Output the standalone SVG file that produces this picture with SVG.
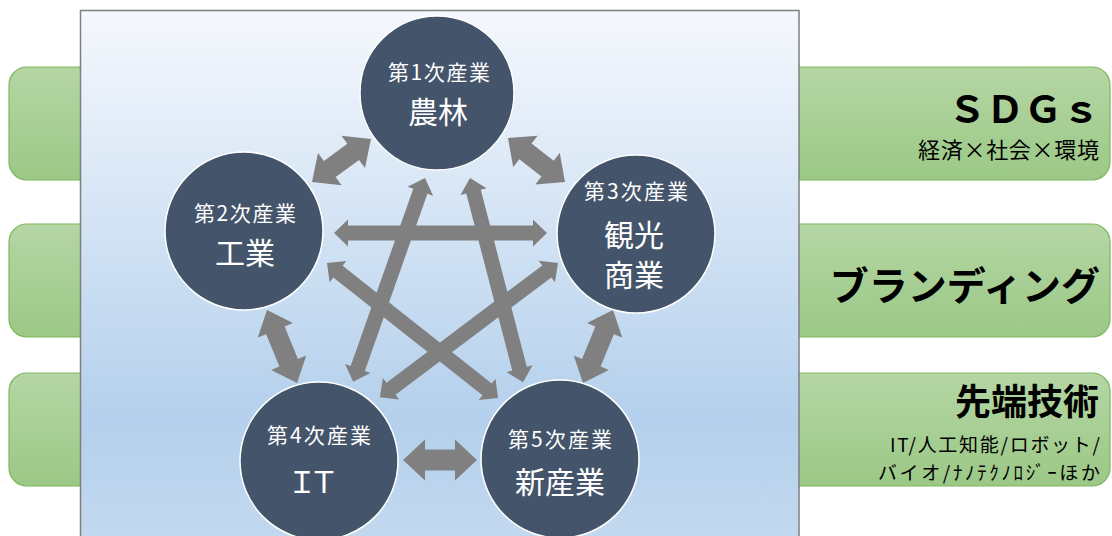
<svg xmlns="http://www.w3.org/2000/svg" width="1112" height="536" viewBox="0 0 1112 536">
<defs>
<linearGradient id="panelGrad" x1="0" y1="10" x2="0" y2="536" gradientUnits="userSpaceOnUse">
<stop offset="0" stop-color="#f5f8fd"/>
<stop offset="0.78" stop-color="#b4d0ec"/>
<stop offset="1" stop-color="#c2d8ef"/>
</linearGradient>
<linearGradient id="greenGrad" x1="0" y1="0" x2="0" y2="1">
<stop offset="0" stop-color="#b5d6a4"/>
<stop offset="1" stop-color="#9bc886"/>
</linearGradient>
<style>
.band{fill:url(#greenGrad);stroke:#7db75c;stroke-width:1.2}
.node circle{fill:#44546a;stroke:#ffffff;stroke-width:1.5}
.small{font-family:"Noto Sans CJK JP","Noto Sans",sans-serif;font-size:21px;fill:#ffffff;text-anchor:middle}
.big{font-family:"Noto Sans CJK JP","Noto Sans",sans-serif;font-size:30px;fill:#ffffff;text-anchor:middle}
.arrow{fill:#808080}
.rt{font-family:"Noto Sans CJK JP","Noto Sans",sans-serif;fill:#000000;text-anchor:end}
</style>
</defs>
<rect width="1112" height="536" fill="#ffffff"/>
<g id="bands">
<rect class="band" x="9" y="67" width="120" height="113" rx="18"/>
<rect class="band" x="9" y="224" width="120" height="113" rx="18"/>
<rect class="band" x="9" y="373" width="120" height="113" rx="18"/>
<rect class="band" x="760" y="67" width="350" height="113" rx="18"/>
<rect class="band" x="760" y="224" width="350" height="113" rx="18"/>
<rect class="band" x="760" y="373" width="350" height="113" rx="18"/>
</g>
<rect id="panel" x="80.5" y="10.5" width="718.5" height="540" fill="url(#panelGrad)" stroke="#7f7f7f" stroke-width="1.5"/>
<g id="band-texts">
<text class="rt" x="1100" y="123" font-size="38" font-weight="bold">ＳＤＧｓ</text>
<text class="rt" x="1099" y="158" font-size="22" textLength="181" lengthAdjust="spacing">経済×社会×環境</text>
<text class="rt" x="1100" y="300" font-size="39" font-weight="bold">ブランディング</text>
<text class="rt" x="1099" y="415" font-size="36" font-weight="bold">先端技術</text>
<text class="rt" x="1100" y="452" font-size="19" textLength="210" lengthAdjust="spacing">IT/人工知能/ロボット/</text>
<text class="rt" x="1100" y="480" font-size="19" textLength="222" lengthAdjust="spacing">バイオ/ﾅﾉﾃｸﾉﾛｼﾞｰほか</text>
</g>
<g id="connectors">
<polygon class="arrow" transform="translate(312,182) rotate(-36.1)" points="0,0 22,-20 22,-10 51,-10 51,-20 73,0 51,20 51,10 22,10 22,20"/>
<polygon class="arrow" transform="translate(508,138) rotate(37.7)" points="0,0 22,-20 22,-10 50,-10 50,-20 72,0 50,20 50,10 22,10 22,20"/>
<polygon class="arrow" transform="translate(267,310) rotate(67.65)" points="0,0 22,-19 22,-10 57,-10 57,-19 79,0 57,19 57,10 22,10 22,19"/>
<polygon class="arrow" transform="translate(613,310) rotate(112.35)" points="0,0 22,-19 22,-10 57,-10 57,-19 79,0 57,19 57,10 22,10 22,19"/>
<polygon class="arrow" transform="translate(403,460)" points="0,0 22,-20.5 22,-10.5 52,-10.5 52,-20.5 74,0 52,20.5 52,10.5 22,10.5 22,20.5"/>
<polygon class="arrow" transform="translate(334,233)" points="0,0 14,-13.5 14,-7.5 199,-7.5 199,-13.5 213,0 199,13.5 199,7.5 14,7.5 14,13.5"/>
<polygon class="arrow" transform="translate(425,178) rotate(109.44)" points="0,0 14,-13.5 14,-7.5 202,-7.5 202,-13.5 216,0 202,13.5 202,7.5 14,7.5 14,13.5"/>
<polygon class="arrow" transform="translate(470,178) rotate(75.44)" points="0,0 14,-13.5 14,-7.5 197,-7.5 197,-13.5 211,0 197,13.5 197,7.5 14,7.5 14,13.5"/>
<polygon class="arrow" transform="translate(327,263) rotate(38.29)" points="0,0 14,-13.5 14,-7.5 204,-7.5 204,-13.5 218,0 204,13.5 204,7.5 14,7.5 14,13.5"/>
<polygon class="arrow" transform="translate(558,263) rotate(143.02)" points="0,0 14,-13.5 14,-7.5 209,-7.5 209,-13.5 223,0 209,13.5 209,7.5 14,7.5 14,13.5"/>
</g>
<g id="node1" class="node">
<circle cx="437" cy="93" r="77"/>
<text class="small" x="439" y="80" textLength="102" lengthAdjust="spacing">第1次産業</text>
<text class="big" x="438" y="123">農林</text>
</g>
<g id="node2" class="node">
<circle cx="244" cy="231" r="79"/>
<text class="small" x="245" y="221" textLength="102" lengthAdjust="spacing">第2次産業</text>
<text class="big" x="245" y="264">工業</text>
</g>
<g id="node3" class="node">
<circle cx="636" cy="234" r="79"/>
<text class="small" x="636" y="199" textLength="104" lengthAdjust="spacing">第3次産業</text>
<text class="big" x="634" y="246">観光</text>
<text class="big" x="634" y="286">商業</text>
</g>
<g id="node4" class="node">
<circle cx="319" cy="461" r="79"/>
<text class="small" x="319" y="443" textLength="104" lengthAdjust="spacing">第4次産業</text>
<text class="big" x="287" y="493" font-size="34" letter-spacing="-8" style="text-anchor:start">ＩＴ</text>
</g>
<g id="node5" class="node">
<circle cx="560" cy="459" r="79"/>
<text class="small" x="560" y="447" textLength="104" lengthAdjust="spacing">第5次産業</text>
<text class="big" x="560" y="493" font-size="31">新産業</text>
</g>
</svg>
